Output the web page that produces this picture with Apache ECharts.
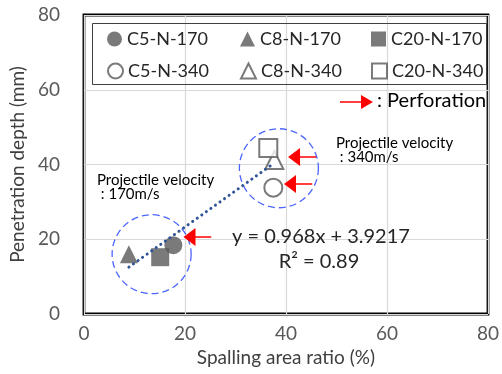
<!DOCTYPE html>
<html>
<head>
<meta charset="utf-8">
<script src="https://cdn.jsdelivr.net/npm/echarts@6/dist/echarts.min.js"></script>
<style>
  html, body { margin: 0; padding: 0; background: #fff; }
  #chart { width: 502px; height: 374px; }
</style>
</head>
<body>
<div id="chart"></div>
<script>
// Specimen names (legend order)
const names = ['C5-N-170', 'C8-N-170', 'C20-N-170', 'C5-N-340', 'C8-N-340', 'C20-N-340'];
// Spalling area ratio (%)
const spallingRatio = [17.7, 8.9, 15.1, 37.5, 37.7, 36.5];
// Penetration depth (mm)
const penetrationDepth = [18.4, 16.0, 15.2, 33.8, 41.2, 44.4];
// Marker shape for each specimen
const shapes = ['circle', 'triangle', 'rect', 'circle', 'triangle', 'rect'];
// Linear fit reported on the chart
const fitSlope = 0.968;
const fitIntercept = 3.9217;
const fitR2 = 0.89;
// Perforated specimens: [depth, arrow head x, arrow tail x]
const perforationArrows = [
  [20.6, 20.9, 25.2],
  [42.0, 41.6, 46.0],
  [34.8, 40.8, 45.2]
];
// Velocity groups outlined with dashed circles: [x, y]
const groupCentres = [[13.4, 16.0], [38.6, 39.0]];
// Axis ticks
const xTicks = [0, 20, 40, 60, 80];
const yTicks = [0, 20, 40, 60, 80];

const FONT = 'Lato, "Liberation Sans", sans-serif';
const GREY = '#595959';

const chart = echarts.init(document.getElementById('chart'), null, { renderer: 'canvas' });

const xMin = Math.min(...spallingRatio);
const xMax = Math.max(...spallingRatio);
const fitLine = [
  [xMin, fitSlope * xMin + fitIntercept],
  [xMax, fitSlope * xMax + fitIntercept]
];

const pointSeries = names.map((n, i) => {
  const open = i >= 3;
  return {
    name: n,
    type: 'scatter',
    symbol: shapes[i],
    symbolSize: 18,
    z: 3,
    data: [[spallingRatio[i], penetrationDepth[i]]],
    itemStyle: open
      ? { color: '#ffffff', borderColor: GREY, borderWidth: 2 }
      : { color: GREY, borderWidth: 0 },
    emphasis: { disabled: true },
    silent: true
  };
});

// legend laid out as a 3 x 2 table, one legend component per cell
const legendCols = [107, 240, 371];
const legendRows = [30, 62];
const legends = names.map((n, i) => ({
  data: [n],
  left: legendCols[i % 3],
  top: legendRows[Math.floor(i / 3)],
  padding: 0,
  itemWidth: 15, itemHeight: 15,
  textStyle: { fontFamily: FONT, fontSize: 18, color: '#262626' },
  selectedMode: false
}));

const option = {
  animation: false,
  backgroundColor: '#ffffff',
  grid: {
    left: 82, right: 8, top: 15, bottom: 60,
    show: true, borderColor: '#000', borderWidth: 2.8, backgroundColor: 'transparent'
  },
  xAxis: {
    type: 'value', min: xTicks[0], max: xTicks[xTicks.length - 1], interval: 20,
    name: 'Spalling area ratio (%)', nameLocation: 'middle', nameGap: 34,
    nameTextStyle: { fontFamily: FONT, fontSize: 19, color: '#404040' },
    axisLine: { show: false }, axisTick: { show: false },
    axisLabel: { fontFamily: FONT, fontSize: 19, color: GREY, margin: 10 },
    splitLine: { show: true, lineStyle: { color: '#d9d9d9', width: 1.2 } }
  },
  yAxis: {
    type: 'value', min: yTicks[0], max: yTicks[yTicks.length - 1], interval: 20,
    name: 'Penetration depth (mm)', nameLocation: 'middle', nameGap: 52,
    nameTextStyle: { fontFamily: FONT, fontSize: 19, color: '#404040' },
    axisLine: { show: false }, axisTick: { show: false },
    axisLabel: { fontFamily: FONT, fontSize: 19, color: GREY, margin: 24 },
    splitLine: { show: true, lineStyle: { color: '#d9d9d9', width: 1.2 } }
  },
  legend: legends,
  series: [
    // dashed circles grouping the two projectile velocities
    {
      type: 'scatter', symbol: 'circle', symbolSize: 79, z: 1, silent: true,
      data: groupCentres,
      itemStyle: { color: 'transparent', borderColor: '#1f3fff', borderWidth: 1.3, borderType: [7, 4] },
      emphasis: { disabled: true }
    },
    ...pointSeries,
    // linear fit
    {
      type: 'line', data: fitLine, symbol: 'none', z: 4, silent: true,
      lineStyle: { color: '#2f5597', width: 3, type: [0.1, 5.5], cap: 'round' },
      emphasis: { disabled: true }
    },
    // perforation arrows
    {
      type: 'scatter', data: [], silent: true, z: 5,
      markLine: {
        silent: true, animation: false,
        symbol: ['none', 'triangle'], symbolSize: [18, 12],
        label: { show: false },
        lineStyle: { color: '#ff0000', width: 1.5, type: 'solid' },
        emphasis: { disabled: true },
        data: perforationArrows.map(a => [
          { coord: [a[2], a[0]] },
          { coord: [a[1], a[0]] }
        ])
      }
    }
  ],
  graphic: [
    // legend frame
    { type: 'rect', shape: { x: 92.5, y: 23.5, width: 394, height: 61 },
      style: { fill: 'none', stroke: '#404040', lineWidth: 1 }, z: 10 },
    // perforation key
    { type: 'line', shape: { x1: 340, y1: 102, x2: 363, y2: 102 },
      style: { stroke: '#ff0000', lineWidth: 1.5 }, z: 10 },
    { type: 'polygon', shape: { points: [[361, 95], [373, 102], [361, 109]] },
      style: { fill: '#ff0000' }, z: 10 },
    { type: 'text', left: 377, top: 91,
      style: { text: ': Perforation', fontFamily: FONT, fontSize: 20, fill: '#000' }, z: 10 },
    // velocity labels
    { type: 'text', left: 97, top: 173,
      style: { text: 'Projectile velocity\n : 170m/s', fontFamily: FONT, fontSize: 15, lineHeight: 14, fill: '#000' }, z: 10 },
    { type: 'text', left: 336, top: 136,
      style: { text: 'Projectile velocity\n : 340m/s', fontFamily: FONT, fontSize: 15, lineHeight: 14, fill: '#000' }, z: 10 },
    // fit equation
    { type: 'text', x: 321, y: 237,
      style: { text: 'y = ' + fitSlope + 'x + ' + fitIntercept, fontFamily: FONT, fontSize: 20, fill: '#262626', align: 'center', verticalAlign: 'middle' }, z: 10 },
    { type: 'text', x: 319, y: 262,
      style: { text: 'R² = ' + fitR2, fontFamily: FONT, fontSize: 20, fill: '#262626', align: 'center', verticalAlign: 'middle' }, z: 10 }
  ]
};

chart.setOption(option);
</script>
</body>
</html>
